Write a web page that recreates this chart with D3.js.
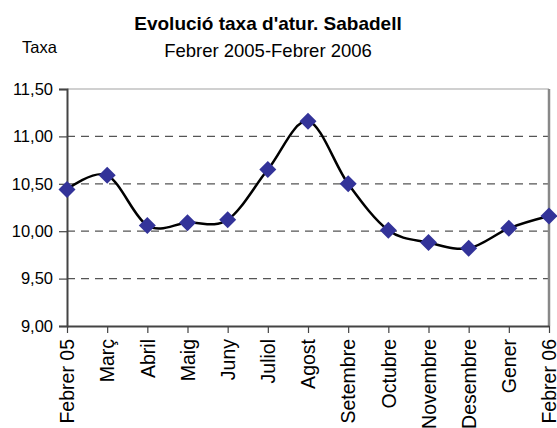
<!DOCTYPE html>
<html>
<head>
<meta charset="utf-8">
<script src="https://cdn.jsdelivr.net/npm/d3@7"></script>
<style>
  body { margin: 0; background: #fff; }
  text { font-family: Arial, "Liberation Sans", sans-serif; fill: #000; }
</style>
</head>
<body>
<div id="chart"></div>
<script>
const months = ['Febrer 05', 'Març', 'Abril', 'Maig', 'Juny', 'Juliol', 'Agost',
    'Setembre', 'Octubre', 'Novembre', 'Desembre', 'Gener', 'Febrer 06'];
const taxa = [10.44, 10.59, 10.06, 10.09, 10.12, 10.65, 11.16,
    10.50, 10.01, 9.88, 9.82, 10.03, 10.16];
const yTicks = [9.0, 9.5, 10.0, 10.5, 11.0, 11.5];

const width = 557, height = 428;
const margin = { top: 89, right: 8, bottom: 102, left: 67 };
const innerW = width - margin.left - margin.right;
const innerH = height - margin.top - margin.bottom;

const svg = d3.select('#chart')
    .append('svg')
    .attr('width', width)
    .attr('height', height);

// titles
svg.append('text')
    .attr('x', 268)
    .attr('y', 30)
    .attr('text-anchor', 'middle')
    .style('font-size', '19px')
    .style('font-weight', 'bold')
    .text("Evolució taxa d'atur. Sabadell");

svg.append('text')
    .attr('x', 268)
    .attr('y', 57)
    .attr('text-anchor', 'middle')
    .style('font-size', '18.5px')
    .text('Febrer 2005-Febrer 2006');

svg.append('text')
    .attr('x', 22)
    .attr('y', 53)
    .style('font-size', '16.5px')
    .text('Taxa');

const g = svg.append('g')
    .attr('transform', `translate(${margin.left},${margin.top})`);

const x = d3.scalePoint()
    .domain(months)
    .range([0, innerW]);

const y = d3.scaleLinear()
    .domain([9, 11.5])
    .range([innerH, 0]);

// dashed gridlines
g.append('g')
    .selectAll('line')
    .data(yTicks.filter(d => d > 9 && d < 11.5))
    .join('line')
    .attr('x1', 0)
    .attr('x2', innerW)
    .attr('y1', d => y(d))
    .attr('y2', d => y(d))
    .attr('stroke', '#555')
    .attr('stroke-width', 1.2)
    .attr('stroke-dasharray', '8,6');

// plot frame: top and right
g.append('line')
    .attr('x1', 0).attr('x2', innerW)
    .attr('y1', 0).attr('y2', 0)
    .attr('stroke', '#c0c0c0')
    .attr('stroke-width', 1.5);

g.append('line')
    .attr('x1', innerW).attr('x2', innerW)
    .attr('y1', 0).attr('y2', innerH)
    .attr('stroke', '#888')
    .attr('stroke-width', 2.5);

// y axis
const yAxis = g.append('g')
    .call(d3.axisLeft(y)
        .tickValues(yTicks)
        .tickSize(8)
        .tickFormat(d => d3.format('.2f')(d).replace('.', ',')));

yAxis.select('.domain').attr('stroke', '#444').attr('stroke-width', 2);
yAxis.selectAll('.tick line').attr('stroke', '#444').attr('stroke-width', 1.2);
yAxis.selectAll('.tick text')
    .attr('x', -14)
    .style('font-size', '16.5px')
    .style('font-family', 'Arial, "Liberation Sans", sans-serif');

// x axis
const xAxis = g.append('g')
    .attr('transform', `translate(0,${innerH})`)
    .call(d3.axisBottom(x).tickSize(7).tickSizeOuter(0));

xAxis.select('.domain').attr('stroke', '#444').attr('stroke-width', 2);
xAxis.selectAll('.tick line').attr('stroke', '#444').attr('stroke-width', 1.2);
xAxis.selectAll('.tick text')
    .attr('transform', 'rotate(-90)')
    .attr('x', -13)
    .attr('y', 0)
    .attr('dy', '0.35em')
    .attr('text-anchor', 'end')
    .style('font-size', '19.5px')
    .style('font-family', 'Arial, "Liberation Sans", sans-serif');

// smoothed line
const line = d3.line()
    .x((d, i) => x(months[i]))
    .y(d => y(d))
    .curve(d3.curveCardinal.tension(0));

g.append('path')
    .datum(taxa)
    .attr('d', line)
    .attr('fill', 'none')
    .attr('stroke', '#000')
    .attr('stroke-width', 2.5);

// diamond markers
const r = 8.5;
g.append('g')
    .selectAll('path')
    .data(taxa)
    .join('path')
    .attr('transform', (d, i) => `translate(${x(months[i])},${y(d)})`)
    .attr('d', `M0,${-r}L${r},0L0,${r}L${-r},0Z`)
    .attr('fill', '#333399');
</script>
</body>
</html>
